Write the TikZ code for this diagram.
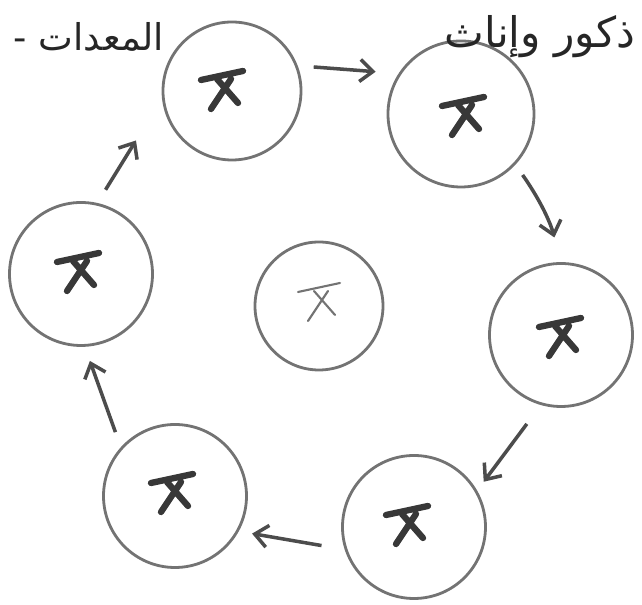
\documentclass[tikz,border=0pt]{standalone}
\usepackage{fontspec}
\newfontfamily\arabicfont[Script=Arabic]{DejaVu Sans}
\TeXXeTstate=1
\usepackage{tikz}
\usetikzlibrary{arrows.meta}

\tikzset{
	xmark/.pic={
		\draw[line cap=round, line join=round, pic actions]
		(-0.42,0.2) -- (0.42,0.38)
		(-0.1,0.22) -- (0.32,-0.26)
		(0.18,0.22) -- (-0.22,-0.38);
	}
}

\begin{document}
\begin{tikzpicture}[
				cell/.style={draw=black!55, line width=1.6pt, circle, inner sep=0pt,
						minimum size=2.86cm},
				hub/.style={cell, minimum size=2.56cm},
				thick mark/.style={draw=black!78, line width=3.6pt},
				thin mark/.style={draw=black!55, line width=1.2pt},
				ar/.style={-{Straight Barb[length=2.6mm,width=4.4mm]}, line width=2pt, draw=black!70},
				lbl/.style={text=black!85, font=\arabicfont\fontsize{24}{28}\selectfont},
			]
			\useasboundingbox (0,0) rectangle (12.84,12.1);
			% the ring of six cells and the one in the middle
			\node[cell, minimum size=2.76cm] (top)   at ( 4.64, 10.28) {};
			\node[cell, minimum size=2.92cm] (topr)  at ( 9.22,  9.82) {};
			\node[cell]  (right) at (11.22,  5.40) {};
			\node[cell]  (botr)  at ( 8.28,  1.56) {};
			\node[cell]  (botl)  at ( 3.50,  2.18) {};
			\node[cell]  (left)  at ( 1.62,  6.62) {};
			\node[hub]   (mid)   at ( 6.38,  5.98) {};
			\pic[thick mark] at ( 4.44, 10.30) {xmark};
			\pic[thick mark] at ( 9.26,  9.78) {xmark};
			\pic[thick mark] at (11.20,  5.36) {xmark};
			\pic[thick mark] at ( 8.14,  1.60) {xmark};
			\pic[thick mark] at ( 3.44,  2.24) {xmark};
			\pic[thick mark] at ( 1.56,  6.66) {xmark};
			\pic[thin mark]  at ( 6.38,  6.06) {xmark};
			% arrows round the ring
			\draw[ar, shorten <=0.32cm, shorten >=0.46cm] (top.21) -- (topr.147);
			\draw[ar, shorten <=0.25cm, shorten >=0.51cm] (topr.-43) to[bend left=10] (right.90);
			\draw[ar, shorten <=0.47cm, shorten >=0.22cm] (right.254) -- (botr.30);
			\draw[ar, shorten <=0.47cm, shorten >=0.27cm] (botr.198) -- (botl.-29);
			\draw[ar, shorten <=0.32cm, shorten >=0.30cm] (botl.138) -- (left.-87);
			\draw[ar, shorten <=0.31cm, shorten >=0.99cm] (left.77) -- (top.186);
			% labels
			\node[lbl, font=\arabicfont\fontsize{21}{25}\selectfont] (lbla) at ( 1.78, 11.36) {\beginR المعدات -\endR};
			\node[lbl] (lblb) at (10.80, 11.36) {\beginR ذكور وإناث\endR};
		\end{tikzpicture}
\end{document}
